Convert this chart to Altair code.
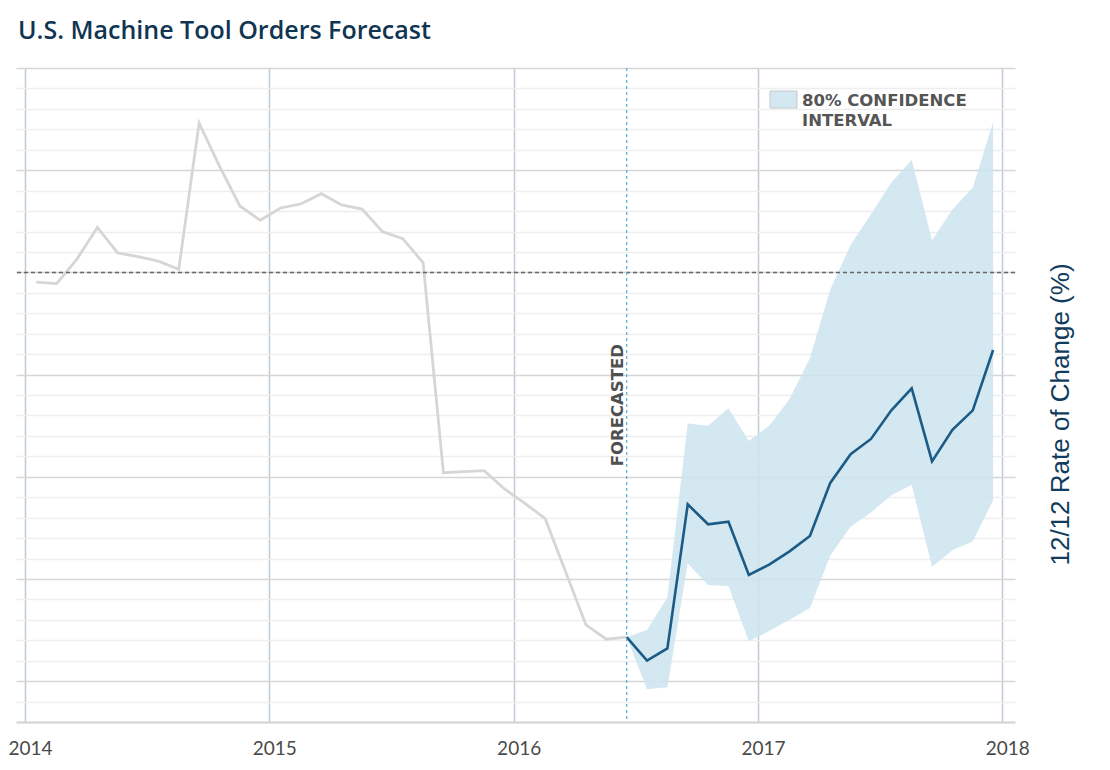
import altair as alt
import pandas as pd

# ---------------- data ----------------
hist_months = [
    "2014-01", "2014-02", "2014-03", "2014-04", "2014-05", "2014-06",
    "2014-07", "2014-08", "2014-09", "2014-10", "2014-11", "2014-12",
    "2015-01", "2015-02", "2015-03", "2015-04", "2015-05", "2015-06",
    "2015-07", "2015-08", "2015-09", "2015-10", "2015-11", "2015-12",
    "2016-01", "2016-02", "2016-03", "2016-04", "2016-05", "2016-06",
]
hist_values = [
    -0.95, -1.1, 1.3, 4.4, 1.9, 1.55,
    1.1, 0.3, 14.6, 10.4, 6.5, 5.1,
    6.3, 6.7, 7.7, 6.6, 6.2, 4.0,
    3.3, 0.95, -19.6, -19.5, -19.4, -21.2,
    -22.6, -24.1, -29.3, -34.5, -35.9, -35.7,
]

fc_months = [
    "2016-06", "2016-07", "2016-08", "2016-09", "2016-10", "2016-11",
    "2016-12", "2017-01", "2017-02", "2017-03", "2017-04", "2017-05",
    "2017-06", "2017-07", "2017-08", "2017-09", "2017-10", "2017-11",
    "2017-12",
]
fc_values = [
    -35.7, -38.0, -36.8, -22.7, -24.65, -24.4,
    -29.6, -28.6, -27.3, -25.8, -20.6, -17.8,
    -16.3, -13.5, -11.35, -18.5, -15.4, -13.5,
    -7.6,
]
fc_upper = [
    -35.7, -35.0, -31.8, -14.8, -15.0, -13.3,
    -16.5, -15.0, -12.4, -8.4, -1.7, 2.7,
    5.7, 8.8, 11.0, 3.15, 6.15, 8.3,
    14.7,
]
fc_lower = [
    -35.7, -40.8, -40.6, -28.5, -30.6, -30.7,
    -36.1, -35.1, -34.0, -32.85, -27.7, -24.9,
    -23.5, -21.8, -20.8, -28.8, -27.2, -26.3,
    -22.3,
]

year_ticks = [2014, 2015, 2016, 2017, 2018]
grid_values = list(range(-42, 21, 2))
forecast_start = "2016-06"

title_text = "U.S. Machine Tool Orders Forecast"
y_title = "12/12 Rate of Change (%)"
forecast_label = "FORECASTED"
legend_lines = ["80% CONFIDENCE", "INTERVAL"]


def dec_year(ym):
    y, m = ym.split("-")
    return int(y) + (int(m) - 0.45) / 12.0


hist = pd.DataFrame({"x": [dec_year(s) for s in hist_months], "v": hist_values})
fc = pd.DataFrame({
    "x": [dec_year(s) for s in fc_months],
    "v": fc_values,
    "lo": fc_lower,
    "hi": fc_upper,
})
one = pd.DataFrame({"a": [0]})

# ---------------- scales / axes ----------------
xscale = alt.Scale(domain=[2013.963, 2018.052], nice=False, zero=False)
yscale = alt.Scale(domain=[-44, 20], nice=False, zero=False)

xaxis = alt.Axis(
    values=year_ticks, format="d", grid=True, gridColor="#bfcbd6", gridWidth=1.5,
    ticks=False, domain=True, domainColor="#d2d2d2", domainWidth=2,
    labelFont="Lato", labelFontSize=19, labelColor="#4a4a4a", labelPadding=17,
    labelOffset=5, title=None,
)
yaxis = alt.Axis(
    orient="right", values=grid_values, grid=True,
    gridColor={"condition": {"test": "datum.value % 10 === 0", "value": "#d6d6d6"},
               "value": "#eeeeee"},
    gridWidth=1.5, ticks=False, labels=False, domain=False,
    title=y_title, titleAngle=270, titleX=45, titleY=346,
    titleAlign="center", titleBaseline="middle",
    titleFont="Liberation Sans", titleFontSize=26, titleFontWeight="normal",
    titleColor="#123c5e",
)

X = alt.X("x:Q", scale=xscale, axis=xaxis)

band = alt.Chart(fc).mark_area(color="#cde4ee", opacity=0.85).encode(
    x=X,
    y=alt.Y("lo:Q", scale=yscale, axis=yaxis),
    y2="hi:Q",
)

gray = alt.Chart(hist).mark_line(color="#d6d6d6", strokeWidth=2.8).encode(
    x=X, y=alt.Y("v:Q", scale=yscale, axis=yaxis)
)

blue = alt.Chart(fc).mark_line(color="#1c5b86", strokeWidth=2.6).encode(
    x=X, y=alt.Y("v:Q", scale=yscale, axis=yaxis)
)

zero = alt.Chart(one).mark_rule(color="#666666", strokeDash=[4, 3], strokeWidth=1.5).encode(
    y=alt.Y(datum=0, scale=yscale, axis=yaxis)
)

fc_rule = alt.Chart(one).mark_rule(color="#5ab4dc", strokeDash=[3, 3], strokeWidth=1.3).encode(
    x=alt.X(datum=dec_year(forecast_start), scale=xscale, axis=xaxis)
)

fc_text = alt.Chart(one).mark_text(
    text=forecast_label, angle=270, align="center", baseline="bottom",
    font="DejaVu Sans", fontWeight="bold", fontSize=16.5, color="#505050", dy=-1,
).encode(
    x=alt.X(datum=dec_year(forecast_start), scale=xscale, axis=xaxis),
    y=alt.Y(datum=-13.0, scale=yscale, axis=yaxis),
)

leg_rect = alt.Chart(one).mark_rect(fill="#d4e8f1", stroke="#c4c8cc", strokeWidth=1).encode(
    x=alt.value(754), x2=alt.value(781), y=alt.value(23), y2=alt.value(40)
)

leg_text = alt.Chart(one).mark_text(
    text=legend_lines, align="left", baseline="alphabetic", lineHeight=20,
    font="DejaVu Sans", fontWeight="bold", fontSize=16.5, color="#555555",
).encode(x=alt.value(786), y=alt.value(38))

chart = alt.layer(band, gray, blue, zero, fc_rule, fc_text, leg_rect, leg_text).properties(
    width=999,
    height=654,
    autosize="none",
    padding={"left": 8, "top": 60, "right": 87, "bottom": 40},
    title=alt.TitleParams(
        text=title_text, anchor="start", font="Open Sans", fontSize=25, fontWeight=600,
        color="#0f3552", offset=23, dx=10,
    ),
).configure_view(stroke=None)

chart.save("out.html", embed_options={"renderer": "svg", "actions": False})
